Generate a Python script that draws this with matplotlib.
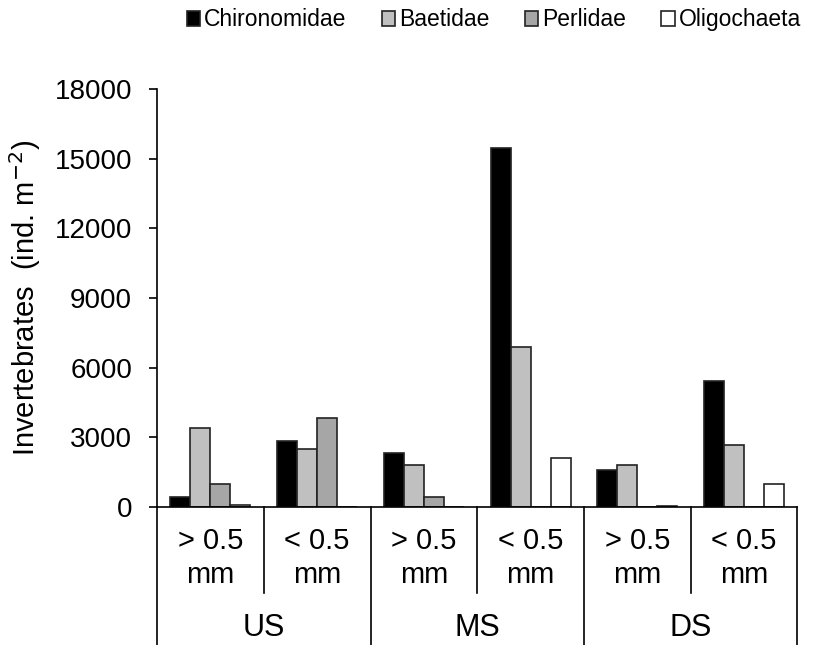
import matplotlib.pyplot as plt
from matplotlib.transforms import blended_transform_factory
import numpy as np

plt.rcParams['font.family'] = ['Liberation Sans', 'DejaVu Sans']

# Данные
categories = ['> 0.5\nmm', '< 0.5\nmm', '> 0.5\nmm', '< 0.5\nmm', '> 0.5\nmm', '< 0.5\nmm']
sites = ['US', 'MS', 'DS']
taxa = ['Chironomidae', 'Baetidae', 'Perlidae', 'Oligochaeta']
chironomidae = [430, 2840, 2340, 15440, 1580, 5420]
baetidae = [3415, 2480, 1795, 6890, 1795, 2655]
perlidae = [1000, 3845, 430, 0, 0, 0]
oligochaeta = [70, 0, 0, 2120, 60, 1000]
colors = ['#000000', '#c0c0c0', '#a6a6a6', '#ffffff']

series = [chironomidae, baetidae, perlidae, oligochaeta]

fig = plt.figure(figsize=(8.2, 6.45), dpi=100)
ax = fig.add_axes([0.1915, 0.214, 0.781, 0.648])

x = np.arange(len(categories))
w = 0.1875
for i, (vals, name, c) in enumerate(zip(series, taxa, colors)):
    ax.bar(x + (i - 1.5) * w, vals, width=w, color=c, edgecolor='#222222',
           linewidth=1.2, label=name)

ax.set_xlim(-0.5, len(categories) - 0.5)
ax.set_ylim(0, 18000)
ax.set_yticks(np.arange(0, 18001, 3000))
ax.tick_params(axis='y', labelsize=20, length=6, width=1.2, direction='out', pad=12)
ax.set_xticks([])
for s in ['top', 'right']:
    ax.spines[s].set_visible(False)
ax.spines['left'].set_linewidth(1.2)
ax.spines['bottom'].set_linewidth(1.2)
ax.set_ylabel('Invertebrates  (ind. m$^{-2}$)', fontsize=21, labelpad=8)

# Двухуровневые подписи оси X
tr = blended_transform_factory(ax.transData, ax.transAxes)
for xi, lab in zip(x, categories):
    ax.text(xi, -0.122, lab, transform=tr, ha='center', va='center',
            fontsize=21, linespacing=1.25)
for k, site in enumerate(sites):
    ax.text(2 * k + 0.5, -0.29, site, transform=tr, ha='center', va='center', fontsize=22)
for b in np.arange(-0.5, len(categories), 1.0):
    long = (b + 0.5) % 2 == 0
    ax.plot([b, b], [0, -0.34 if long else -0.206], transform=tr, color='black',
            linewidth=1.2, clip_on=False)

fig.legend(loc='center', bbox_to_anchor=(0.602, 0.969), ncol=4, frameon=False,
           fontsize=16.5, handlelength=0.6, handleheight=0.6, handletextpad=0.15,
           columnspacing=1.55)

fig.savefig('out.png', dpi=100)
